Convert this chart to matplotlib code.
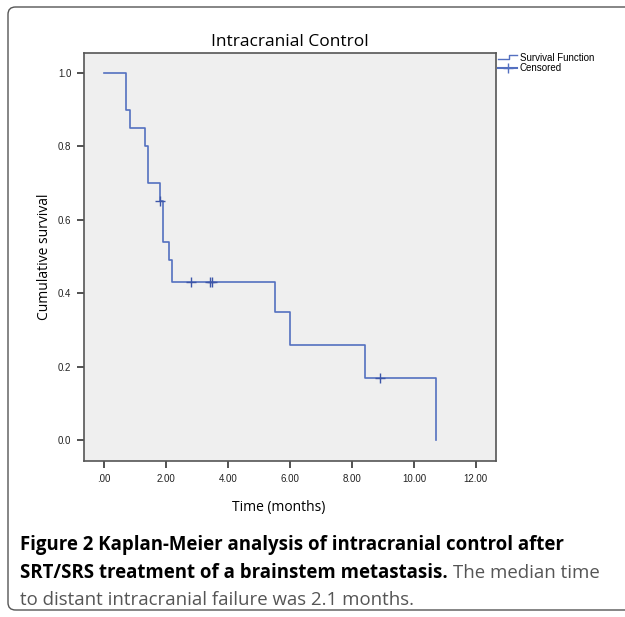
import matplotlib
matplotlib.use("Agg")
import matplotlib.pyplot as plt
from matplotlib.lines import Line2D
from matplotlib.legend_handler import HandlerBase
from matplotlib.patches import FancyBboxPatch

# Kaplan-Meier step values
times = [0.0, 0.71, 0.84, 1.32, 1.42, 1.82, 1.91, 2.11, 2.21, 5.52, 6.01, 8.42, 10.71]
surv = [1.0, 0.90, 0.85, 0.80, 0.70, 0.65, 0.54, 0.49, 0.43, 0.35, 0.26, 0.17, 0.0]
cens_t = [1.80, 2.82, 3.42, 3.49, 8.90]
cens_s = [0.65, 0.43, 0.43, 0.43, 0.17]

xticks = [0, 2, 4, 6, 8, 10, 12]
xlabels = [".00", "2.00", "4.00", "6.00", "8.00", "10.00", "12.00"]
yticks = [0.0, 0.2, 0.4, 0.6, 0.8, 1.0]
ylabels = ["0.0", "0.2", "0.4", "0.6", "0.8", "1.0"]

blue = "#5470c0"
dark = "#3d56a8"


class StepHandler(HandlerBase):
    # little step icon like the SPSS legend
    def create_artists(self, legend, orig, xd, yd, w, h, fontsize, trans):
        xs = [xd, xd + w * 0.55, xd + w * 0.55, xd + w]
        ys = [yd + h * 0.25, yd + h * 0.25, yd + h * 0.95, yd + h * 0.95]
        ln = Line2D(xs, ys, color=blue, lw=1.0, transform=trans)
        return [ln]


fig = plt.figure(figsize=(6.25, 6.17), dpi=100)
fig.patch.set_facecolor("white")

# rounded frame around the whole figure
box = FancyBboxPatch((8 / 625, 7 / 617), 700 / 625, 603 / 617,
                     boxstyle="round,pad=0,rounding_size=0.012",
                     transform=fig.transFigure, fill=False,
                     ec="#555555", lw=1.0)
fig.patches.append(box)

ax = fig.add_axes([84 / 625, 1 - 461 / 617, 412 / 625, 408 / 617])
ax.set_facecolor("#efefef")

ax.step(times, surv, where="post", color=blue, lw=1.2)
ax.plot(cens_t, cens_s, ls="none", marker="+", ms=6.5, mew=1.0, color=dark)

ax.set_xlim(-0.645, 12.65)
ax.set_ylim(-0.057, 1.054)
ax.set_xticks(xticks)
ax.set_xticklabels(xlabels)
ax.set_yticks(yticks)
ax.set_yticklabels(ylabels)
for t in ax.get_xticklabels() + ax.get_yticklabels():
    t.set_fontfamily("Liberation Sans")
    t.set_fontsize(7)
    t.set_color("#222222")
ax.tick_params(direction="out", length=5, width=1.2, color="#333333", pad=4)
for sp in ax.spines.values():
    sp.set_color("#555555")
    sp.set_linewidth(1.2)

ax.set_title("Intracranial Control", family="Open Sans", fontsize=12.5, pad=5)
fig.text(279 / 625, 1 - 508 / 617, "Time (months)", family="Open Sans",
         fontsize=10, ha="center", va="center")
fig.text(45 / 625, 1 - 257 / 617, "Cumulative survival", family="Open Sans",
         fontsize=10, ha="center", va="center", rotation=90)

handles = [Line2D([], [], color=blue), Line2D([], [], color=blue, marker="+", ms=7)]
leg = fig.legend(handles, ["Survival Function", "Censored"],
                 loc="upper left", bbox_to_anchor=(497 / 625, 1 - 52 / 617),
                 handler_map={handles[0]: StepHandler()},
                 frameon=False, handlelength=2.0, handletextpad=0.25,
                 labelspacing=0.05, borderaxespad=0, borderpad=0.1,
                 prop={"family": "Liberation Sans", "size": 7})

# caption
cap_x = 20 / 625
fs = 13.4
fig.text(cap_x, 1 - 545 / 617,
         "Figure 2 Kaplan-Meier analysis of intracranial control after",
         family="Open Sans", fontsize=fs, weight="bold", va="center")
t1 = fig.text(cap_x, 1 - 573 / 617,
              "SRT/SRS treatment of a brainstem metastasis.",
              family="Open Sans", fontsize=fs, weight="bold", va="center")
fig.canvas.draw()
bb = t1.get_window_extent()
fig.text(bb.x1 / 625 + 0.009, 1 - 573 / 617, "The median time",
         family="Open Sans", fontsize=fs, color="#555555", va="center")
fig.text(cap_x, 1 - 600 / 617, "to distant intracranial failure was 2.1 months.",
         family="Open Sans", fontsize=fs, color="#555555", va="center")

fig.savefig("out.png", dpi=100)
